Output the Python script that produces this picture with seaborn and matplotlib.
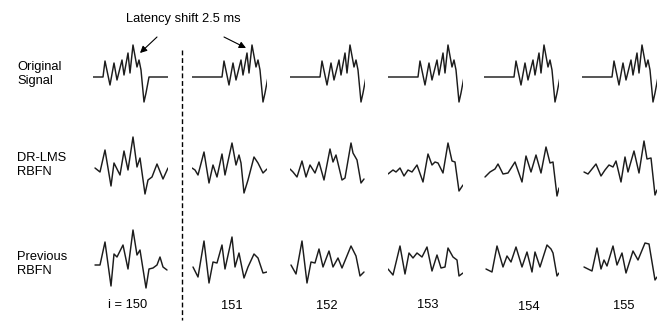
import numpy as np
import matplotlib
matplotlib.use("Agg")
import matplotlib.pyplot as plt
from matplotlib.lines import Line2D
from matplotlib.patches import FancyArrowPatch
import seaborn as sns

# ---------------------------------------------------------------------------
# Data: evoked-potential sweeps, sampled at 8 kHz (sample index, amplitude)
# ---------------------------------------------------------------------------
FS_KHZ = 8.0            # samples per millisecond
WINDOW = 75             # samples shown in each sweep window
LATENCY_SHIFT_MS = 2.5  # latency shift applied from sweep 151 onwards

iterations = ["i = 150", "151", "152", "153", "154", "155"]
row_labels = ["Original\nSignal", "DR-LMS\nRBFN", "Previous\nRBFN"]

# noise-free template response
orig_samples = [-25, 0, 10, 12, 17, 21, 24, 29, 31, 35, 37, 40, 44, 46, 48, 51, 53, 56, 80]
orig_values = [0.0, 0.0, 0.0, 1.6, -0.8, 1.4, -0.3, 1.7, 0.2, 2.4, 0.4, 3.2, 1.0, 1.7, 0.7, -2.5, -1.6, 0.0, 0.0]

# DR-LMS RBFN estimates, sweeps 150..155
drlms_samples = [
    [2, 7, 12, 18, 21, 27, 31, 35, 40, 44, 47, 52, 55, 59, 64, 70, 75],
    [0, 3, 6, 12, 17, 21, 25, 30, 33, 40, 44, 47, 49, 52, 56, 62, 66, 71, 75],
    [0, 3, 7, 12, 16, 20, 25, 29, 34, 40, 43, 46, 52, 55, 61, 63, 67, 71, 74],
    [0, 5, 8, 12, 16, 20, 24, 29, 35, 40, 44, 47, 50, 55, 60, 64, 67, 71, 75],
    [1, 6, 11, 14, 19, 24, 31, 38, 42, 47, 52, 57, 62, 66, 69, 73, 75],
    [2, 6, 14, 19, 23, 27, 31, 34, 39, 43, 46, 52, 57, 62, 65, 69, 73, 75],
]
drlms_values = [
    [0.1, -0.3, 1.9, -1.7, 0.6, -0.6, 1.8, -0.1, 3.2, 0.2, 1.1, -2.5, -1.1, -0.8, 0.5, -1.0, 0.1],
    [0.1, -0.1, -0.6, 1.7, -1.4, 0.4, -0.8, 1.5, -0.6, 2.6, 0.4, 1.4, 0.6, -2.4, -1.1, 1.2, 0.6, -0.4, 0.0],
    [0.0, -0.3, -0.8, 0.8, -0.8, 0.4, -0.4, 0.7, -1.1, 2.0, 0.7, 1.4, -1.1, -0.9, 2.6, 1.6, 0.9, -1.4, -1.0],
    [-0.5, -0.1, -0.3, 0.1, -0.7, -0.1, -0.3, 0.4, -1.3, 1.5, 0.4, 0.7, 0.6, -0.4, 2.6, 0.8, 0.7, -2.2, -1.6],
    [-0.8, -0.3, 0.0, 0.5, -0.5, -0.4, 0.7, -1.3, 1.3, -0.3, 1.4, -0.4, 2.2, 0.6, 0.7, -2.7, -1.9],
    [-0.3, -0.5, 0.5, -0.7, -0.1, 0.4, 0.2, 0.8, -1.3, 1.2, -0.3, 1.8, -0.4, 2.8, 1.0, 1.1, -2.6, -2.1],
]

# previous RBFN estimates, sweeps 150..155
prev_samples = [
    [2, 7, 12, 18, 21, 24, 30, 35, 40, 44, 47, 53, 56, 60, 64, 67, 70, 74],
    [1, 6, 12, 17, 21, 25, 30, 33, 40, 43, 47, 52, 56, 62, 66, 71, 75],
    [1, 6, 12, 17, 21, 25, 29, 33, 39, 43, 48, 52, 61, 66, 70, 74],
    [0, 5, 12, 17, 21, 25, 29, 34, 39, 44, 49, 53, 57, 60, 65, 69, 71, 75],
    [2, 8, 13, 19, 23, 27, 32, 38, 43, 48, 51, 56, 63, 67, 69, 73, 75],
    [2, 6, 10, 15, 19, 22, 25, 31, 35, 40, 44, 51, 56, 63, 67, 73, 75],
]
prev_values = [
    [0.2, 0.2, 2.5, -1.9, 1.3, 1.0, 2.2, -0.2, 3.7, 1.2, 1.7, -2.1, -0.2, -0.1, 0.2, 1.0, 0.0, -0.3],
    [0.0, -1.0, 2.6, -1.6, 0.5, 0.4, 2.2, -0.2, 3.0, 0.0, 1.4, -1.1, 0.0, 1.3, 0.9, -0.6, -0.5],
    [0.2, -0.7, 2.6, -1.6, 0.5, 0.4, 1.8, 0.0, 1.6, 0.0, 0.9, -0.1, 2.1, 1.1, -0.9, -0.5],
    [-0.2, -0.8, 2.1, -0.7, 1.4, 0.9, 1.4, 1.0, 2.0, -0.4, 1.2, -0.1, 0.0, 1.9, 1.0, 0.7, -0.9, -0.6],
    [-0.2, -0.5, 2.1, 0.0, 1.1, 0.5, 2.0, 0.0, 1.5, -0.5, 1.5, 0.0, 2.2, 1.8, 1.4, -0.9, -0.6],
    [0.0, -0.2, -0.4, 1.9, -0.2, 0.7, 0.1, 2.1, 0.2, 1.4, -0.6, 1.6, 0.7, 2.4, 2.3, -1.3, -1.0],
]

# ---------------------------------------------------------------------------
# Figure layout (pixel geometry of the panel grid)
# ---------------------------------------------------------------------------
sns.set_theme(style="white")
plt.rcParams["font.family"] = ["Liberation Sans", "DejaVu Sans"]

W, H = 663, 322
fig = plt.figure(figsize=(W / 100, H / 100), dpi=100)
fig.patch.set_facecolor("white")

col_left = [93, 192, 290, 388, 484, 582]
row_base = [77, 169, 267]
panel_w = 75
half_h = 40
AMP = 4.0
LINE_KW = dict(color="#1c1c1c", linewidth=1.05)


def fx(x):
    return x / W


def fy(y):
    return 1 - y / H


def panel(row, col):
    ax = fig.add_axes([fx(col_left[col]), fy(row_base[row] + half_h),
                       panel_w / W, 2 * half_h / H])
    ax.set_xlim(0, WINDOW / FS_KHZ)
    ax.set_ylim(-AMP, AMP)
    ax.axis("off")
    return ax


def trace(ax, t, v):
    sns.lineplot(x=t, y=v, ax=ax, estimator=None, sort=False,
                 legend=False, **LINE_KW)
    for ln in ax.lines:
        ln.set_solid_joinstyle("round")
        ln.set_solid_capstyle("round")


for c in range(len(iterations)):
    # row 0: template, shifted in latency after the first sweep
    shift = 0.0 if c == 0 else LATENCY_SHIFT_MS
    trace(panel(0, c), np.array(orig_samples) / FS_KHZ + shift, orig_values)
    trace(panel(1, c), np.array(drlms_samples[c]) / FS_KHZ, drlms_values[c])
    trace(panel(2, c), np.array(prev_samples[c]) / FS_KHZ, prev_values[c])

# row titles
label_y = [74, 165, 264]
for text, y in zip(row_labels, label_y):
    fig.text(fx(17), fy(y), text, ha="left", va="center", fontsize=9.3,
             linespacing=1.15, color="black")

# sweep indices
index_x = [128, 232, 327, 428, 529, 624]
index_y = [305, 306, 306, 305, 307, 306]
for text, x, y in zip(iterations, index_x, index_y):
    fig.text(fx(x), fy(y), text, ha="center", va="center", fontsize=9.3,
             color="black")

# separator between the reference sweep and the shifted sweeps
fig.add_artist(Line2D([fx(182), fx(182)], [fy(50), fy(320)],
                      transform=fig.transFigure, color="black",
                      linewidth=1.0, linestyle=(0, (3.5, 2.0))))

# latency-shift annotation with arrows
fig.text(fx(183), fy(19), "Latency shift 2.5 ms", ha="center", va="center",
         fontsize=9.3, color="black")
for tail, head in [((157, 37), (140, 53)), ((224, 37), (246, 48))]:
    fig.add_artist(FancyArrowPatch((fx(tail[0]), fy(tail[1])),
                                   (fx(head[0]), fy(head[1])),
                                   transform=fig.transFigure,
                                   arrowstyle="-|>", mutation_scale=10,
                                   linewidth=0.8, color="black",
                                   shrinkA=0, shrinkB=0))

fig.savefig("out.png", dpi=100, facecolor="white")
